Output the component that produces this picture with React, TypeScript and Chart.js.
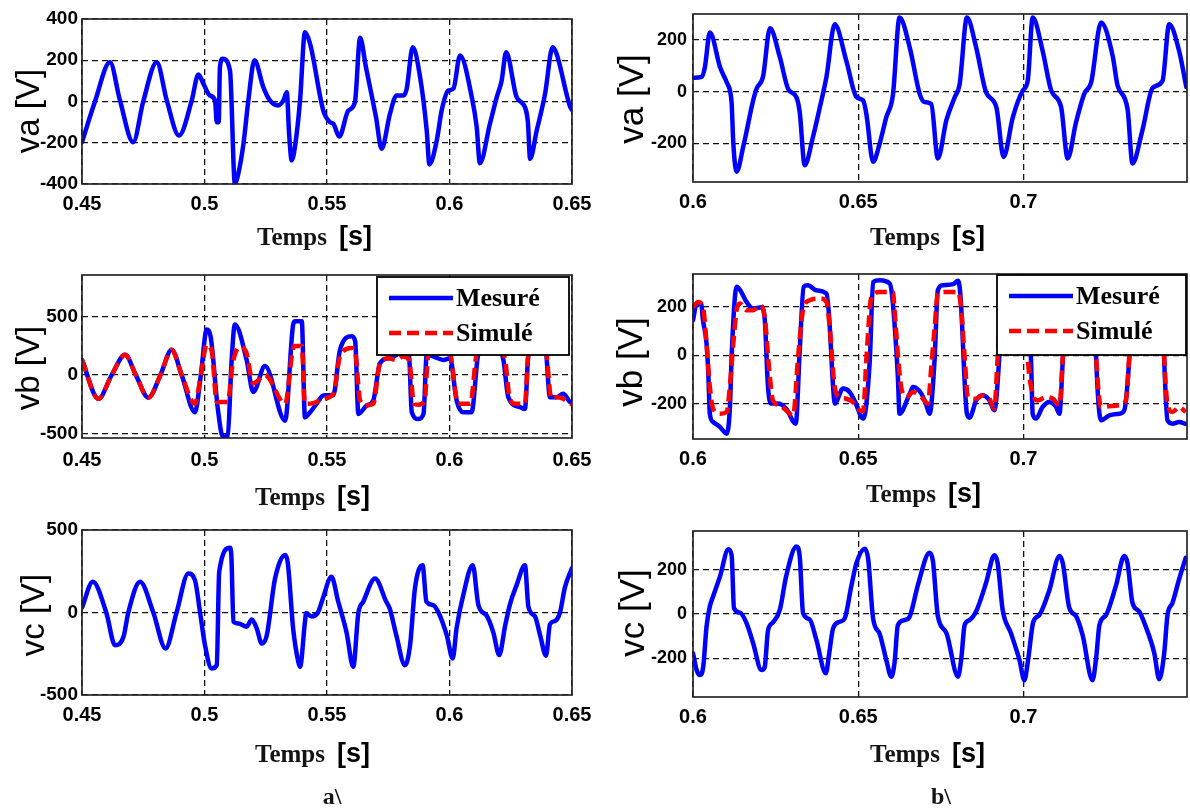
import { useEffect, useRef } from "react";
import { Chart, registerables } from "chart.js";

Chart.register(...registerables);

type Pt = [number, number];

// ---- axis ticks -------------------------------------------------------
const TIME_TICKS_A = [0.45, 0.5, 0.55, 0.6, 0.65];
const TIME_LABELS_A = ["0.45", "0.5", "0.55", "0.6", "0.65"];
const TIME_TICKS_B = [0.6, 0.65, 0.7];
const TIME_LABELS_B = ["0.6", "0.65", "0.7"];

const VA_TICKS_A = [-400, -200, 0, 200, 400];
const VB_TICKS_A = [-500, 0, 500];
const VC_TICKS_A = [-500, 0, 500];
const V_TICKS_B = [-200, 0, 200];

// ---- series a) 0.45 - 0.65 s : [time s, voltage V] -------------------
const VA_A: Pt[] = [
  [0.45, -197], [0.4553, 0], [0.4614, 190], [0.4655, 5], [0.4709, -197], [0.475, 0],
  [0.4805, 190], [0.4846, 5], [0.4896, -165], [0.4948, 5], [0.4975, 131], [0.4996, 85],
  [0.5022, 29], [0.5043, 5], [0.505, -100], [0.5058, -100], [0.5063, 166], [0.5074, 207],
  [0.5104, 150], [0.5124, -396], [0.5138, -350], [0.5159, -205], [0.5179, 5], [0.5204, 200],
  [0.524, 70], [0.5267, 5], [0.5301, -19], [0.5322, 5], [0.5336, 45], [0.5345, -150],
  [0.5356, -285], [0.5369, -221], [0.539, 5], [0.541, 336], [0.5431, 280], [0.5485, -44],
  [0.5512, -100], [0.5526, -108], [0.555, -170], [0.5587, -44], [0.5614, -3], [0.5635, 309],
  [0.5659, 166], [0.57, -76], [0.5723, -229], [0.5757, -60], [0.5784, 29], [0.5812, 29],
  [0.5825, 60], [0.585, 263], [0.588, 118], [0.5907, -141], [0.5918, -305], [0.5948, -189],
  [0.5968, -44], [0.5995, 53], [0.6016, 62], [0.6043, 223], [0.6091, 21], [0.6111, -124],
  [0.6124, -299], [0.6165, -108], [0.6193, 21], [0.6213, 102], [0.6231, 239], [0.6274, 21],
  [0.6308, -28], [0.632, -100], [0.6329, -278], [0.6356, -141], [0.639, 37], [0.6421, 263],
  [0.6437, 231], [0.6492, -24], [0.65, -40],
];

const VB_MES_A: Pt[] = [
  [0.45, 130], [0.4567, -203], [0.4621, 0], [0.4676, 174], [0.472, 0], [0.4771, -194],
  [0.482, 0], [0.4866, 217], [0.4907, 0], [0.4961, -319], [0.4985, 0], [0.5009, 391],
  [0.5025, 330], [0.5055, -300], [0.5075, -530], [0.5095, -520], [0.511, 100], [0.5124, 435],
  [0.5172, 130], [0.5199, -145], [0.5247, 78], [0.5329, -391], [0.5362, 435], [0.537, 463],
  [0.5397, 463], [0.541, -362], [0.5431, -319], [0.5458, -245], [0.5485, -174], [0.5526, -170],
  [0.5553, 217], [0.5601, 333], [0.5615, 290], [0.5628, -333], [0.5662, -261], [0.5689, -217],
  [0.5716, 101], [0.575, 145], [0.5784, 174], [0.581, 230], [0.5835, 160], [0.5846, -319],
  [0.5873, -377], [0.5894, -330], [0.5907, 174], [0.5934, 160], [0.5975, 130], [0.6002, 145],
  [0.6029, -217], [0.6056, -319], [0.609, -319], [0.6118, 188], [0.615, 260], [0.6193, 260],
  [0.622, 130], [0.624, -189], [0.6288, -275], [0.6308, -290], [0.6322, 174], [0.635, 260],
  [0.639, 260], [0.641, -189], [0.6437, -189], [0.6464, -160], [0.6492, -232], [0.65, -240],
];

const VB_SIM_A: Pt[] = [
  [0.45, 130], [0.4567, -203], [0.4621, 0], [0.4676, 174], [0.472, 0], [0.4771, -194],
  [0.482, 0], [0.4866, 217], [0.4907, 0], [0.4961, -246], [0.4985, 0], [0.5009, 261],
  [0.503, 200], [0.505, -230], [0.5095, -230], [0.5115, 100], [0.5145, 241], [0.517, 200],
  [0.5199, -72], [0.5247, 0], [0.5329, -246], [0.5362, 232], [0.537, 250], [0.5397, 250],
  [0.541, -246], [0.5445, -240], [0.5485, -203], [0.5526, -160], [0.5553, 160], [0.5601, 232],
  [0.5615, 200], [0.5635, -217], [0.5662, -260], [0.5689, -246], [0.5716, 101], [0.575, 145],
  [0.5784, 130], [0.581, 160], [0.5835, 130], [0.5855, -246], [0.5873, -255], [0.5899, -217],
  [0.5912, 160], [0.594, 250], [0.5995, 250], [0.6036, -246], [0.6085, -246], [0.6111, 180],
  [0.615, 250], [0.6193, 250], [0.6227, 130], [0.6245, -189], [0.6268, -246], [0.6308, -246],
  [0.6322, 174], [0.635, 250], [0.639, 250], [0.6416, -203], [0.6437, -189], [0.6464, -203],
  [0.6492, -246], [0.65, -250],
];

const VC_A: Pt[] = [
  [0.45, 30], [0.4544, 186], [0.4599, 0], [0.4635, -198], [0.4669, -149], [0.4689, 0],
  [0.4737, 186], [0.4791, 0], [0.4841, -218], [0.4886, 0], [0.4934, 236], [0.4961, 196],
  [0.4982, 0], [0.5002, -198], [0.5029, -339], [0.505, -319], [0.506, 247], [0.5104, 392],
  [0.511, 330], [0.5118, -56], [0.5138, -66], [0.5172, -86], [0.5193, -42], [0.5213, -96],
  [0.5234, -188], [0.5254, -139], [0.5288, 206], [0.5329, 348], [0.534, 300], [0.5362, -100],
  [0.5383, -300], [0.539, -329], [0.541, -56], [0.5415, -3], [0.5436, -24], [0.5463, 0],
  [0.5483, 85], [0.5518, 216], [0.5546, 65], [0.558, -122], [0.5607, -329], [0.5628, -3],
  [0.5648, 65], [0.5696, 206], [0.5742, 65], [0.5756, 24], [0.5783, -139], [0.5818, -319],
  [0.5839, -198], [0.5859, 146], [0.589, 287], [0.5906, 65], [0.5933, 45], [0.5955, 0],
  [0.5989, -139], [0.6013, -279], [0.6029, -94], [0.6056, 105], [0.6095, 287], [0.6118, 45],
  [0.6152, -20], [0.6179, -122], [0.6203, -258], [0.6227, -81], [0.6247, 51], [0.6274, 166],
  [0.6308, 287], [0.6322, 35], [0.6349, -24], [0.637, -139], [0.6394, -262], [0.641, -71],
  [0.6431, -51], [0.6451, 0], [0.6471, 152], [0.65, 270],
];

// ---- series b) 0.6 - 0.75 s ------------------------------------------
const VA_B: Pt[] = [
  [0.6, 53], [0.6026, 57], [0.6036, 94], [0.6051, 228], [0.6082, 94], [0.6102, 36],
  [0.6112, 3], [0.6117, -46], [0.6122, -200], [0.6132, -310], [0.6152, -214], [0.6182, -35],
  [0.6192, 10], [0.6212, 58], [0.6233, 245], [0.6263, 132], [0.6288, 10], [0.6313, -22],
  [0.6323, -80], [0.6338, -285], [0.6363, -176], [0.6384, -60], [0.6404, 58], [0.6429, 260],
  [0.6464, 119], [0.6495, -22], [0.6515, -35], [0.6525, -90], [0.6545, -272], [0.6565, -201],
  [0.6585, -99], [0.6605, -13], [0.6625, 286], [0.6656, 170], [0.6686, -9], [0.6701, -41],
  [0.6721, -48], [0.6741, -259], [0.6767, -110], [0.6792, -22], [0.6807, 29], [0.6829, 286],
  [0.6857, 170], [0.6887, -3], [0.6918, -60], [0.694, -253], [0.6968, -99], [0.6998, 4],
  [0.7013, 42], [0.7028, 286], [0.7058, 158], [0.7084, 4], [0.7114, -60], [0.7134, -259],
  [0.7159, -120], [0.7184, -9], [0.7205, 36], [0.7235, 267], [0.727, 138], [0.7285, 23],
  [0.7315, -67], [0.733, -278], [0.736, -150], [0.7391, 14], [0.7421, 42], [0.7441, 260],
  [0.7471, 158], [0.7493, 17],
];

const VB_MES_B: Pt[] = [
  [0.6, 144], [0.6011, 213], [0.6026, 206], [0.6029, 158], [0.6041, 48], [0.6046, -64],
  [0.6051, -241], [0.6061, -275], [0.6082, -296], [0.6102, -323], [0.6112, -206], [0.6117, 0],
  [0.6132, 282], [0.6142, 270], [0.6162, 220], [0.6182, 192], [0.6207, 198], [0.6217, 150],
  [0.6227, -131], [0.6237, -199], [0.6257, -199], [0.6282, -220], [0.6311, -282], [0.6323, 21],
  [0.6335, 282], [0.6348, 289], [0.6373, 268], [0.6404, 254], [0.6412, 158], [0.6424, -131],
  [0.6429, -199], [0.6454, -137], [0.6474, -151], [0.649, -190], [0.6515, -261], [0.6535, -21],
  [0.6545, 302], [0.6565, 309], [0.6595, 296], [0.6603, 240], [0.662, -89], [0.6625, -241],
  [0.6656, -158], [0.6666, -131], [0.6691, -158], [0.6705, -200], [0.6716, -241], [0.6731, -21],
  [0.6741, 268], [0.6756, 289], [0.6787, 293], [0.6802, 307], [0.6809, 254], [0.6829, -241],
  [0.6837, -257], [0.6857, -186], [0.6877, -165], [0.6897, -186], [0.6912, -227], [0.6927, -7],
  [0.6937, 260], [0.701, 260], [0.7023, -21], [0.7028, -241], [0.7038, -261], [0.7058, -213],
  [0.7078, -192], [0.7099, -213], [0.7109, -241], [0.7119, -21], [0.713, 260], [0.7215, 260],
  [0.722, -7], [0.7235, -268], [0.726, -248], [0.729, -241], [0.7305, -227], [0.732, -21],
  [0.733, 260], [0.742, 260], [0.7426, -21], [0.7436, -268], [0.7451, -282], [0.7471, -275],
  [0.7491, -282],
];

const VB_SIM_B: Pt[] = [
  [0.6, 199], [0.6016, 220], [0.6031, 192], [0.6041, 48], [0.6051, -131], [0.6061, -220],
  [0.6082, -241], [0.6102, -234], [0.6112, -120], [0.6122, 48], [0.6132, 186], [0.6142, 213],
  [0.6162, 186], [0.6182, 186], [0.6202, 206], [0.6217, 158], [0.623, -50], [0.6242, -186],
  [0.6263, -206], [0.6282, -227], [0.6303, -248], [0.6318, -7], [0.6333, 186], [0.6353, 227],
  [0.6384, 234], [0.6404, 220], [0.6414, 110], [0.6429, -131], [0.6444, -172], [0.6464, -179],
  [0.6484, -193], [0.6505, -227], [0.6515, -230], [0.6525, -7], [0.654, 241], [0.6565, 261],
  [0.6605, 261], [0.661, 186], [0.662, 4], [0.663, -131], [0.6646, -172], [0.6666, -151],
  [0.6691, -172], [0.6711, -199], [0.6721, -50], [0.6731, 110], [0.6741, 254], [0.6766, 261],
  [0.6802, 261], [0.6812, 186], [0.6822, -7], [0.6832, -172], [0.6857, -179], [0.6877, -165],
  [0.6897, -179], [0.6912, -220], [0.6922, -7], [0.6935, 250], [0.7005, 250], [0.7013, -7],
  [0.7028, -158], [0.7043, -186], [0.7069, -172], [0.7089, -179], [0.7109, -206], [0.7119, -7],
  [0.713, 250], [0.7212, 250], [0.722, -7], [0.7235, -213], [0.726, -210], [0.729, -206],
  [0.731, -186], [0.732, -7], [0.733, 250], [0.742, 250], [0.7426, -7], [0.7436, -199],
  [0.7451, -234], [0.7471, -213], [0.7491, -234],
];

const VC_B: Pt[] = [
  [0.6, -177], [0.6011, -253], [0.6021, -276], [0.6031, -238], [0.6041, -56], [0.6051, 35],
  [0.6061, 80], [0.6082, 171], [0.6107, 292], [0.6117, 265], [0.6124, 27], [0.6142, 6],
  [0.6162, -41], [0.6182, -132], [0.6207, -253], [0.6217, -240], [0.6227, -74], [0.6242, -38],
  [0.6263, 20], [0.6282, 171], [0.6313, 305], [0.6323, 260], [0.6333, 5], [0.6353, -24],
  [0.6373, -115], [0.6402, -268], [0.6412, -180], [0.6424, -65], [0.6444, -35], [0.6459, -20],
  [0.6479, 125], [0.6495, 232], [0.652, 295], [0.653, 250], [0.6545, -20], [0.6565, -90],
  [0.6585, -208], [0.66, -283], [0.661, -220], [0.662, -50], [0.6641, -27], [0.6656, -11],
  [0.6681, 133], [0.6716, 277], [0.6726, 240], [0.6741, -9], [0.6767, -86], [0.6802, -283],
  [0.6812, -200], [0.6822, -50], [0.6837, -27], [0.6857, 12], [0.6887, 141], [0.6912, 265],
  [0.6922, 230], [0.6937, 20], [0.6962, -86], [0.6988, -208], [0.7003, -299], [0.7013, -220],
  [0.703, -35], [0.7048, -5], [0.7079, 110], [0.7109, 262], [0.7119, 230], [0.7139, 27],
  [0.7159, -9], [0.7179, -95], [0.7209, -299], [0.722, -200], [0.723, -50], [0.725, -5],
  [0.728, 128], [0.7305, 262], [0.7315, 230], [0.733, 50], [0.735, 12], [0.737, -56],
  [0.7396, -177], [0.7411, -295], [0.7426, -177], [0.7436, -5], [0.7451, 50], [0.7471, 156],
  [0.7491, 254],
];

// ---- layout -----------------------------------------------------------
const PAD_T = 20;
const PAD_R = 40;
const SANS = '"Liberation Sans", Arial, sans-serif';
const SERIF = '"Liberation Serif", "Times New Roman", serif';

interface Series { label: string; data: Pt[]; simulated?: boolean }
interface Panel {
  key: string;
  rect: { x: number; y: number; w: number; h: number };
  padL: number;
  padB: number;
  xMin: number; xMax: number; xTicks: number[]; xLabels: string[];
  yMin: number; yMax: number; yTicks: number[];
  yTickFont: number; yTickPad: number; xTickPad: number;
  yTitle: string; yTitlePos: [number, number]; yTitleSize: number;
  xTitlePos: [number, number];
  series: Series[];
  legend?: { x: number; y: number; w: number; h: number };
  caption?: { text: string; x: number; y: number };
}

const PANELS: Panel[] = [
  {
    key: "va-a", rect: { x: 82, y: 19, w: 490, h: 165 }, padL: 82, padB: 80,
    xMin: 0.45, xMax: 0.65, xTicks: TIME_TICKS_A, xLabels: TIME_LABELS_A,
    yMin: -400, yMax: 400, yTicks: VA_TICKS_A, yTickFont: 19, yTickPad: 4, xTickPad: 8,
    yTitle: "va [V]", yTitlePos: [30, 111], yTitleSize: 33, xTitlePos: [257, 245],
    series: [{ label: "Mesuré", data: VA_A }],
  },
  {
    key: "vb-a", rect: { x: 82, y: 275, w: 490, h: 163 }, padL: 82, padB: 80,
    xMin: 0.45, xMax: 0.65, xTicks: TIME_TICKS_A, xLabels: TIME_LABELS_A,
    yMin: -540, yMax: 860, yTicks: VB_TICKS_A, yTickFont: 19, yTickPad: 4, xTickPad: 10,
    yTitle: "vb [V]", yTitlePos: [30, 368], yTitleSize: 33, xTitlePos: [255, 505],
    series: [
      { label: "Mesuré", data: VB_MES_A },
      { label: "Simulé", data: VB_SIM_A, simulated: true },
    ],
    legend: { x: 377, y: 277, w: 192, h: 78 },
  },
  {
    key: "vc-a", rect: { x: 82, y: 530, w: 490, h: 165 }, padL: 82, padB: 118,
    xMin: 0.45, xMax: 0.65, xTicks: TIME_TICKS_A, xLabels: TIME_LABELS_A,
    yMin: -500, yMax: 500, yTicks: VC_TICKS_A, yTickFont: 19, yTickPad: 4, xTickPad: 8,
    yTitle: "vc [V]", yTitlePos: [35, 615], yTitleSize: 33, xTitlePos: [255, 762],
    series: [{ label: "Mesuré", data: VC_A }],
    caption: { text: "a\\", x: 332, y: 804 },
  },
  {
    key: "va-b", rect: { x: 693, y: 14, w: 494, h: 168 }, padL: 100, padB: 80,
    xMin: 0.6, xMax: 0.7495, xTicks: TIME_TICKS_B, xLabels: TIME_LABELS_B,
    yMin: -350, yMax: 300, yTicks: V_TICKS_B, yTickFont: 18, yTickPad: 6, xTickPad: 8,
    yTitle: "va [V]", yTitlePos: [633, 99], yTitleSize: 35, xTitlePos: [870, 245],
    series: [{ label: "Mesuré", data: VA_B }],
  },
  {
    key: "vb-b", rect: { x: 693, y: 274, w: 494, h: 165 }, padL: 100, padB: 80,
    xMin: 0.6, xMax: 0.7495, xTicks: TIME_TICKS_B, xLabels: TIME_LABELS_B,
    yMin: -345, yMax: 335, yTicks: V_TICKS_B, yTickFont: 18, yTickPad: 6, xTickPad: 8,
    yTitle: "vb [V]", yTitlePos: [632, 362], yTitleSize: 35, xTitlePos: [866, 502],
    series: [
      { label: "Mesuré", data: VB_MES_B },
      { label: "Simulé", data: VB_SIM_B, simulated: true },
    ],
    legend: { x: 997, y: 275, w: 189, h: 80 },
  },
  {
    key: "vc-b", rect: { x: 693, y: 531, w: 494, h: 166 }, padL: 100, padB: 118,
    xMin: 0.6, xMax: 0.7495, xTicks: TIME_TICKS_B, xLabels: TIME_LABELS_B,
    yMin: -375, yMax: 375, yTicks: V_TICKS_B, yTickFont: 18, yTickPad: 6, xTickPad: 8,
    yTitle: "vc [V]", yTitlePos: [634, 613], yTitleSize: 35, xTitlePos: [870, 762],
    series: [{ label: "Mesuré", data: VC_B }],
    caption: { text: "b\\", x: 941, y: 804 },
  },
];

// Draws the axes box, legend, axis titles and caption on top of the plot.
function decorPlugin(panel: Panel, ox: number, oy: number) {
  return {
    id: "decor",
    afterDatasetsDraw(chart: any) {
      const { ctx, chartArea: a } = chart;
      ctx.save();
      ctx.setLineDash([]);
      ctx.strokeStyle = "#262626";
      ctx.lineWidth = 1.7;
      ctx.strokeRect(a.left, a.top, a.right - a.left, a.bottom - a.top);

      if (panel.legend) {
        const L = panel.legend;
        const lx = L.x - ox;
        const ly = L.y - oy;
        ctx.fillStyle = "#ffffff";
        ctx.fillRect(lx, ly, L.w, L.h);
        ctx.strokeStyle = "#000000";
        ctx.lineWidth = 1.8;
        ctx.strokeRect(lx, ly, L.w, L.h);
        chart.data.datasets.forEach((ds: any, i: number) => {
          const y = ly + 21 + i * 35;
          ctx.beginPath();
          ctx.setLineDash(ds.borderDash || []);
          ctx.strokeStyle = ds.borderColor;
          ctx.lineWidth = 4.5;
          ctx.lineCap = "butt";
          ctx.moveTo(lx + 12, y);
          ctx.lineTo(lx + 76, y);
          ctx.stroke();
          ctx.setLineDash([]);
          ctx.fillStyle = "#000000";
          ctx.font = `bold 26px ${SERIF}`;
          ctx.textAlign = "left";
          ctx.textBaseline = "middle";
          ctx.fillText(ds.label, lx + 79, y + 1);
        });
      }

      // y title (rotated)
      ctx.save();
      ctx.translate(panel.yTitlePos[0] - ox, panel.yTitlePos[1] - oy);
      ctx.rotate(-Math.PI / 2);
      ctx.fillStyle = "#000000";
      ctx.font = `${panel.yTitleSize}px ${SANS}`;
      ctx.textAlign = "center";
      ctx.textBaseline = "middle";
      ctx.fillText(panel.yTitle, 0, 0);
      ctx.restore();

      // x title: "Temps" + "[s]"
      const tx = panel.xTitlePos[0] - ox;
      const ty = panel.xTitlePos[1] - oy;
      ctx.textAlign = "left";
      ctx.textBaseline = "alphabetic";
      ctx.fillStyle = "#141414";
      ctx.font = `bold 25px ${SERIF}`;
      ctx.fillText("Temps", tx, ty);
      const w = ctx.measureText("Temps").width;
      ctx.fillStyle = "#000000";
      ctx.font = `bold 27px ${SANS}`;
      ctx.fillText("[s]", tx + w + 12, ty);

      if (panel.caption) {
        ctx.font = `bold 24px ${SERIF}`;
        ctx.textAlign = "center";
        ctx.fillStyle = "#141414";
        ctx.fillText(panel.caption.text, panel.caption.x - ox, panel.caption.y - oy);
      }
      ctx.restore();
    },
  };
}

function PanelChart({ panel }: { panel: Panel }) {
  const ref = useRef<HTMLCanvasElement>(null);
  const left = panel.rect.x - panel.padL;
  const top = panel.rect.y - PAD_T;
  const width = panel.rect.w + panel.padL + PAD_R;
  const height = panel.rect.h + PAD_T + panel.padB;

  useEffect(() => {
    const canvas = ref.current;
    if (!canvas) return;
    const datasets = panel.series.map((s) => ({
      label: s.label,
      data: s.data.map(([x, y]) => ({ x, y })),
      borderColor: s.simulated ? "#ff0000" : "#0000ff",
      borderWidth: 4.5,
      borderDash: s.simulated ? [12, 6] : [],
      borderJoinStyle: "round",
      borderCapStyle: s.simulated ? "butt" : "round",
      pointRadius: 0,
      fill: false,
      cubicInterpolationMode: "monotone",
      order: s.simulated ? 0 : 1,
    }));
    const gridStyle = { color: "#111111", lineWidth: 1.3, drawTicks: false };
    const chart = new Chart(canvas, {
      type: "line",
      data: { datasets } as any,
      options: {
        responsive: false,
        animation: false,
        devicePixelRatio: 1,
        layout: { padding: { left: 0, top: PAD_T, right: PAD_R, bottom: 0 } },
        plugins: { legend: { display: false }, tooltip: { enabled: false } },
        scales: {
          x: {
            type: "linear",
            min: panel.xMin,
            max: panel.xMax,
            grid: gridStyle,
            border: { display: false, dash: [6, 4] },
            afterBuildTicks: (s: any) => { s.ticks = panel.xTicks.map((v) => ({ value: v })); },
            afterFit: (s: any) => { s.height = panel.padB; },
            ticks: {
              autoSkip: false,
              maxRotation: 0,
              padding: panel.xTickPad,
              color: "#000",
              font: { family: SANS, size: 20, weight: "bold" },
              callback: (_v: any, i: number) => panel.xLabels[i],
            },
          },
          y: {
            type: "linear",
            min: panel.yMin,
            max: panel.yMax,
            grid: gridStyle,
            border: { display: false, dash: [6, 4] },
            afterBuildTicks: (s: any) => { s.ticks = panel.yTicks.map((v) => ({ value: v })); },
            afterFit: (s: any) => { s.width = panel.padL; },
            ticks: {
              autoSkip: false,
              padding: panel.yTickPad,
              color: "#000",
              font: { family: SANS, size: panel.yTickFont, weight: "bold" },
              callback: (v: any) => String(v),
            },
          },
        },
      } as any,
      plugins: [decorPlugin(panel, left, top)],
    });
    return () => chart.destroy();
  }, []);

  return (
    <canvas
      ref={ref}
      width={width}
      height={height}
      style={{ position: "absolute", left, top, width, height }}
    />
  );
}

export default function App() {
  return (
    <div
      style={{
        position: "fixed",
        left: 0,
        top: 0,
        width: 1190,
        height: 810,
        overflow: "hidden",
        background: "#ffffff",
      }}
    >
      {PANELS.map((p) => (
        <PanelChart key={p.key} panel={p} />
      ))}
    </div>
  );
}
